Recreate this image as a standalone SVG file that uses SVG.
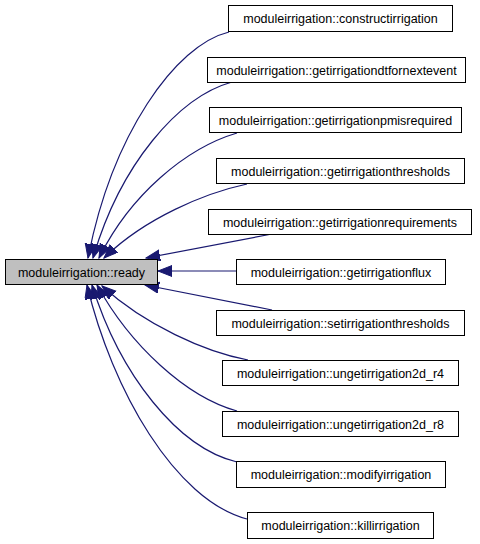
<svg xmlns="http://www.w3.org/2000/svg" width="480" height="544" viewBox="0 0 480 544">
<defs>
<style>
.n rect{fill:#ffffff;stroke:#000000;stroke-width:1}
.n text{font-family:"Liberation Sans",Arial,sans-serif;font-size:12.5px;text-anchor:middle;fill:#000000}
#main rect{fill:#bfbfbf}
.e path{fill:none;stroke:#191970;stroke-width:1.2;marker-end:url(#ah)}
</style>
<marker id="ah" markerUnits="userSpaceOnUse" markerWidth="15" markerHeight="12" refX="14" refY="5.5" orient="auto">
<path d="M0,0 L14,5.5 L0,11 z" fill="#191970" stroke="#191970" stroke-width="1"/>
</marker>
</defs>
<rect width="480" height="544" fill="#ffffff"/>
<g id="edges" class="e">
<path d="M229,32 C175,45 112,135 88,258"/>
<path d="M232,82 C178,97 120,165 93,258"/>
<path d="M237,133 C186,148 130,195 99,258"/>
<path d="M247,184 C205,193 145,218 104,258"/>
<path d="M272,234 L146,258"/>
<path d="M236,271 L158,271"/>
<path d="M272,310 L145,285"/>
<path d="M248,360 C205,352 145,325 102,286"/>
<path d="M237,411 C186,397 130,345 97,285"/>
<path d="M237,462 C178,448 120,375 92,285"/>
<path d="M247,519 C175,500 112,390 87,285"/>
</g>
<g id="main" class="n"><rect x="5.5" y="259.5" width="152" height="25"/><text x="81.5" y="276.5">moduleirrigation::ready</text></g>
<g id="n1" class="n"><rect x="228.5" y="5.5" width="224" height="26"/><text x="340.5" y="23">moduleirrigation::constructirrigation</text></g>
<g id="n2" class="n"><rect x="207.5" y="57.5" width="258" height="25"/><text x="336.5" y="74.5">moduleirrigation::getirrigationdtfornextevent</text></g>
<g id="n3" class="n"><rect x="209.5" y="107.5" width="252" height="25"/><text x="335.5" y="124.5">moduleirrigation::getirrigationpmisrequired</text></g>
<g id="n4" class="n"><rect x="216.5" y="158.5" width="248" height="25"/><text x="340.5" y="175.5">moduleirrigation::getirrigationthresholds</text></g>
<g id="n5" class="n"><rect x="208.5" y="209.5" width="263" height="25"/><text x="340" y="226.5">moduleirrigation::getirrigationrequirements</text></g>
<g id="n6" class="n"><rect x="236.5" y="259.5" width="209" height="25"/><text x="341" y="276.5">moduleirrigation::getirrigationflux</text></g>
<g id="n7" class="n"><rect x="216.5" y="310.5" width="248" height="25"/><text x="340.5" y="327.5">moduleirrigation::setirrigationthresholds</text></g>
<g id="n8" class="n"><rect x="222.5" y="360.5" width="236" height="25"/><text x="340.5" y="377.5">moduleirrigation::ungetirrigation2d_r4</text></g>
<g id="n9" class="n"><rect x="222.5" y="411.5" width="236" height="25"/><text x="340.5" y="428.5">moduleirrigation::ungetirrigation2d_r8</text></g>
<g id="n10" class="n"><rect x="236.5" y="461.5" width="209" height="26"/><text x="341" y="479">moduleirrigation::modifyirrigation</text></g>
<g id="n11" class="n"><rect x="247.5" y="512.5" width="186" height="26"/><text x="340.5" y="530">moduleirrigation::killirrigation</text></g>
</svg>
